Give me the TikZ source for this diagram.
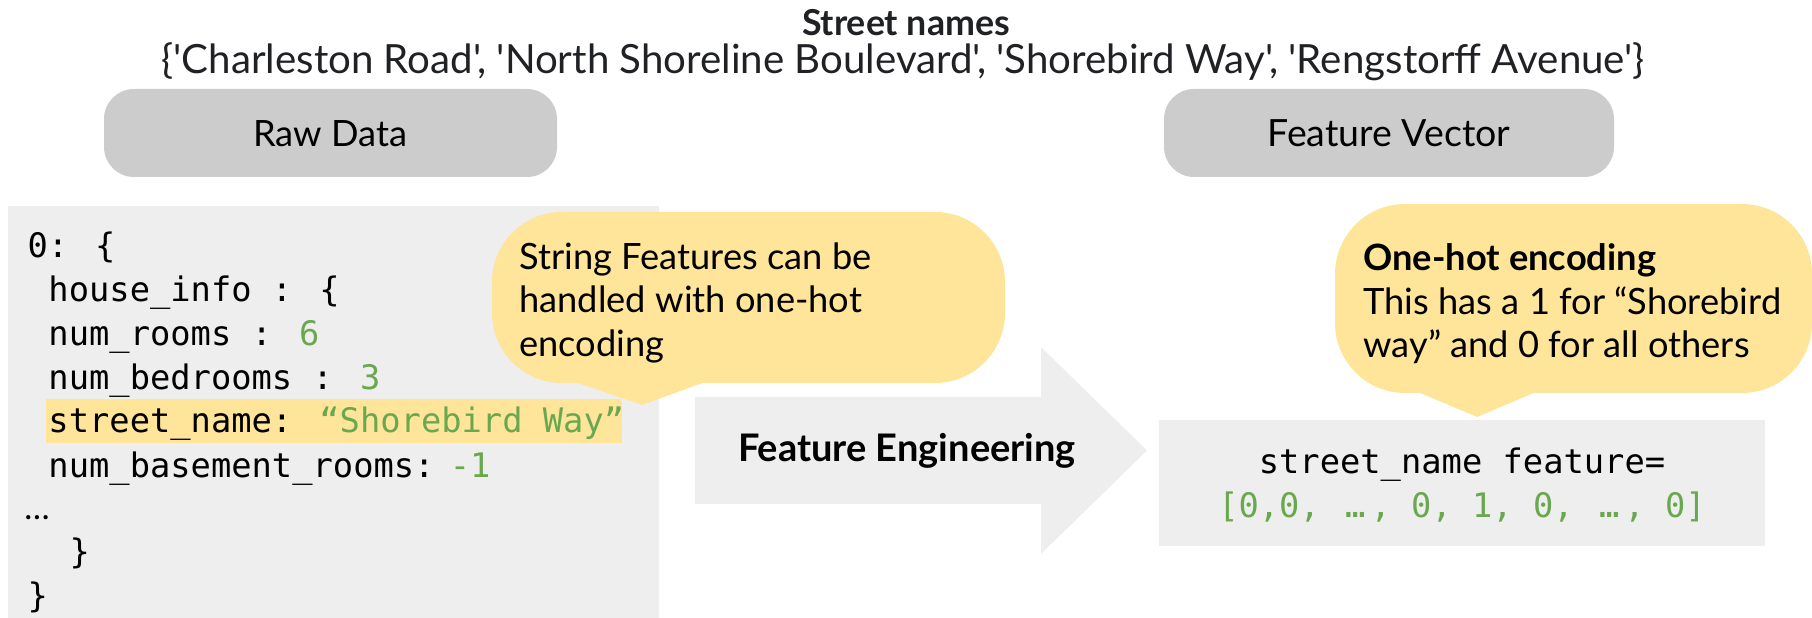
\documentclass[tikz,border=0pt]{standalone}
\usepackage{fontspec}
\setmainfont{Lato}[Ligatures=TeXOff]
\newfontfamily\codefont{DejaVu Sans Mono}
\definecolor{panel}{HTML}{EEEEEE}
\definecolor{tab}{HTML}{CCCCCC}
\definecolor{note}{HTML}{FFE599}
\definecolor{val}{HTML}{6AA84F}
\definecolor{ink}{HTML}{202124}
% ellipsis that takes a bit more than one monospace cell
\newcommand\cellipsis{\makebox[0.9em][c]{…}}
\tikzset{
  tabbox/.style={fill=tab, rounded corners=12},
  notebox/.style={fill=note, rounded corners=28},
  label/.style={inner sep=0pt, font=\fontsize{14.5}{17.5}\selectfont, text=black},
  notetext/.style={inner sep=0pt, anchor=north west, align=left,
    font=\fontsize{14.5}{17.45}\selectfont, text=black},
  code/.style={inner sep=0pt, anchor=base west,
    font=\codefont\fontsize{13.5}{17}\selectfont, text=black},
}
\begin{document}
\begin{tikzpicture}[x=0.4pt, y=-0.4pt]
\useasboundingbox (0,0) rectangle (1812,618);

% title and list of street names
\node[label, anchor=base, font=\bfseries\fontsize{14.3}{17}\selectfont, text=ink] (title) at (906,36) {Street names};
\node[label, anchor=base, font=\fontsize{16.1}{18}\selectfont, text=ink] (names) at (903,74)
  {\{'Charleston Road', 'North Shoreline Boulevard', 'Shorebird Way', 'Rengstorff Avenue'\}};

% header tabs
\fill[tabbox] (104,89) rectangle (557,177);
\node[label, anchor=base] (raw) at (330,147) {Raw Data};
\fill[tabbox] (1164,89) rectangle (1614,177);
\node[label, anchor=base, font=\fontsize{15}{17.5}\selectfont] (vec) at (1389,147) {Feature Vector};

% raw data record
\fill[panel] (8,206) rectangle (659,620);
\fill[note] (46,399) rectangle (622,443);
\node[code] (c1) at (27,258) {0: \{};
\node[code] (c2) at (48,302) {house\_info : \{};
\node[code] (c3) at (48,346) {num\_rooms : \textcolor{val}{6}};
\node[code] (c4) at (48,390) {num\_bedrooms : \textcolor{val}{3}};
\node[code] (c5) at (48,433) {street\_name: \textcolor{val}{“Shorebird Way”}};
\node[code] (c6) at (48,477) {num\_basement\_rooms:\hspace{0.45em}\textcolor{val}{-1}};
\node[code, font=\fontsize{13.5}{17}\selectfont] (c7) at (24,520) {…};
\node[code] (c8) at (69,563) {\}};
\node[code] (c9) at (27,607) {\}};

% callout on the left
\fill[notebox] (492,212) rectangle (1005,383);
\fill[note] (575,382) -- (705,382) -- (642,405) -- cycle;
\node[notetext] (note1) at (519,242)
  {String Features can be\\handled with one-hot\\encoding};

% big arrow
\fill[panel] (695,397) -- (1041,397) -- (1041,347) -- (1147,450.5)
  -- (1041,554) -- (1041,504) -- (695,504) -- cycle;
\node[label, font=\bfseries\fontsize{15.2}{18}\selectfont] (fe) at (907,451) {Feature Engineering};

% callout on the right
\fill[notebox] (1335,204) rectangle (1812,393);
\fill[note] (1418,392) -- (1536,392) -- (1477,417) -- cycle;
\node[notetext] (note2) at (1363,243)
  {\textbf{One-hot encoding}\\This has a 1 for “Shorebird\\way” and 0 for all others};

% resulting feature vector
\fill[panel] (1159,420) rectangle (1765,546);
\node[code, anchor=base] (v1) at (1462,473) {street\_name feature=};
\node[code, anchor=base, text=val] (v2) at (1462,518)
  {[0,0, \cellipsis, 0, 1, 0, \cellipsis, 0]};
\end{tikzpicture}
\end{document}
